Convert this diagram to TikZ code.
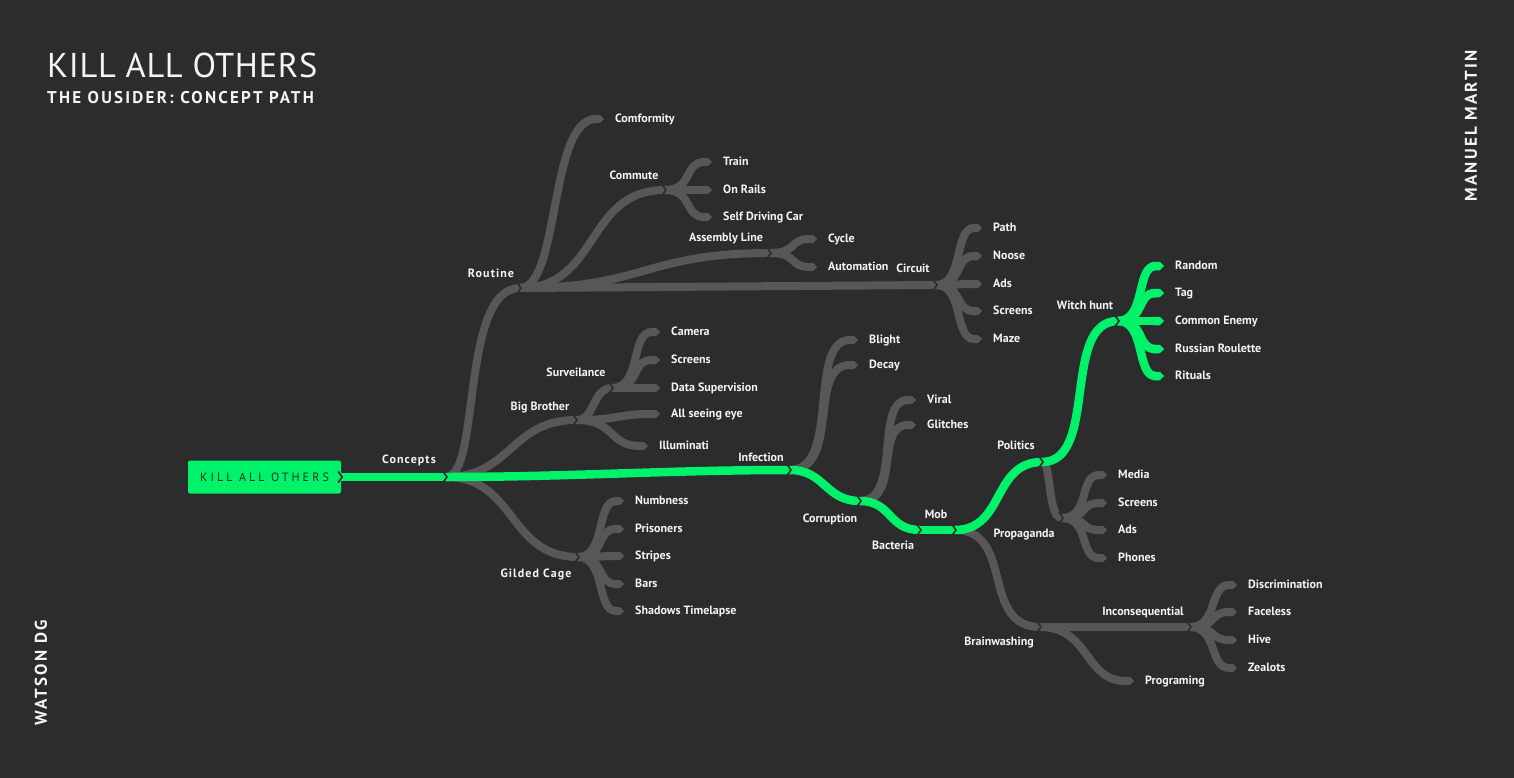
\documentclass[tikz,border=0pt]{standalone}
\usepackage{fontspec}
\setmainfont{PT Sans}
\newfontfamily\titlefont[LetterSpace=2]{PT Sans}
\newfontfamily\subfont[LetterSpace=13]{PT Sans}
\newfontfamily\rootfont[LetterSpace=26]{PT Sans}
\newfontfamily\spfont[LetterSpace=9]{PT Sans}
\usetikzlibrary{arrows.meta,positioning}
\definecolor{bgc}{HTML}{2C2C2C}
\definecolor{grn}{HTML}{00F26B}
\definecolor{gry}{HTML}{595656}
\definecolor{txt}{HTML}{F4F4F4}
\definecolor{dark}{HTML}{1A3325}
\tikzset{
 gbr/.style={draw=gry, line width=8pt},
 gleaf/.style={gbr, -{Triangle Cap}},
 grnbr/.style={draw=grn, line width=8.5pt},
 grnleaf/.style={grnbr, -{Triangle Cap}},
 notch/.style={draw=bgc, line width=1.6pt},
 lab/.style={font=\bfseries\fontsize{12}{13}\selectfont, text=txt, inner sep=0pt, text height=9pt, text depth=2.5pt},
 leaf/.style={lab, anchor=west},
 side/.style={font=\subfont\bfseries\fontsize{17}{19}\selectfont, text=txt, inner sep=0pt, rotate=90},
}
\newcommand\notchat[1]{\draw[notch] (#1) ++(-3,5.5) -- ++(4,-5.5) -- ++(-4,-5.5);}
\begin{document}
\begin{tikzpicture}[x=1pt,y=1pt]
\fill[bgc] (0,0) rectangle (1514,-778);
\useasboundingbox (0,0) rectangle (1514,-778);

% titles
\node[anchor=base west, inner sep=0pt, text=txt, font=\titlefont\fontsize{34.4}{40}\selectfont] (title) at (47,-78) {KILL ALL OTHERS};
\node[anchor=base west, inner sep=0pt, text=txt, font=\subfont\bfseries\fontsize{17}{19}\selectfont] (sub) at (47,-104) {THE OUSIDER: CONCEPT PATH};
\node[side] (author) at (1471,-126) {MANUEL MARTIN};
\node[side] (studio) at (41,-673) {WATSON DG};

% root
\node[fill=grn, rounded corners=2pt, minimum width=153pt, minimum height=33pt, inner sep=0pt,
      text=dark, font=\rootfont\fontsize{12}{14}\selectfont] (root) at (264.5,-477) {KILL ALL OTHERS};

% junctions
\coordinate (jc) at (446,-477);
\coordinate (jinf) at (790,-470);
\coordinate (jcor) at (860,-501);
\coordinate (jbac) at (920,-530);
\coordinate (jmob) at (955,-530);
\coordinate (jpol) at (1042,-462);
\coordinate (jwit) at (1118,-321);
\coordinate (jrou) at (520,-288);
\coordinate (jbig) at (576,-420);
\coordinate (jgil) at (578,-557);
\coordinate (jcom) at (665,-190);
\coordinate (jass) at (770,-253);
\coordinate (jcir) at (936,-285);
\coordinate (jsur) at (612,-388);
\coordinate (jpro) at (1062,-518);
\coordinate (jbra) at (1040,-627);
\coordinate (jinc) at (1190,-627);

% leaf ends
\coordinate (eComf) at (604,-119);
\coordinate (eTrain) at (712,-162);
\coordinate (eRails) at (712,-190);
\coordinate (eSelf) at (712,-217);
\coordinate (eCycle) at (817,-239);
\coordinate (eAuto) at (817,-267);
\coordinate (ePath) at (982,-228);
\coordinate (eNoose) at (982,-256);
\coordinate (eAdsA) at (982,-284);
\coordinate (eScrA) at (982,-311);
\coordinate (eMaze) at (982,-339);
\coordinate (eCam) at (660,-332);
\coordinate (eScrB) at (660,-360);
\coordinate (eData) at (660,-388);
\coordinate (eEye) at (660,-414);
\coordinate (eIll) at (648,-446);
\coordinate (eNumb) at (624,-501);
\coordinate (ePris) at (624,-529);
\coordinate (eStr) at (624,-556);
\coordinate (eBars) at (624,-584);
\coordinate (eShad) at (624,-611);
\coordinate (eBli) at (858,-340);
\coordinate (eDec) at (858,-365);
\coordinate (eVir) at (916,-400);
\coordinate (eGli) at (916,-425);
\coordinate (eRan) at (1164,-266);
\coordinate (eTag) at (1164,-293);
\coordinate (eCom) at (1164,-321);
\coordinate (eRus) at (1164,-349);
\coordinate (eRit) at (1164,-376);
\coordinate (eMed) at (1107,-475);
\coordinate (eScrC) at (1107,-503);
\coordinate (eAdsC) at (1107,-530);
\coordinate (ePho) at (1107,-558);
\coordinate (eDis) at (1237,-585);
\coordinate (eFac) at (1237,-612);
\coordinate (eHive) at (1237,-640);
\coordinate (eZeal) at (1237,-668);
\coordinate (eProg) at (1134,-681);

% grey branches
\draw[gbr] (jc) .. controls +(35,0) and +(-60,0) .. (jrou);
\draw[gbr] (jc) .. controls +(65,0) and +(-65,0) .. (jbig);
\draw[gbr] (jc) .. controls +(70,0) and +(-70,0) .. (jgil);

\draw[gleaf] (jrou) .. controls +(40,0) and +(-55,0) .. (eComf);
\draw[gbr] (jrou) .. controls +(80,0) and +(-80,0) .. (jcom);
\draw[gbr] (jrou) .. controls +(125,0) and +(-125,0) .. (jass);
\draw[gbr] (jrou) -- (jcir);

\foreach \e in {eTrain,eRails,eSelf}
  \draw[gleaf] (jcom) .. controls +(28,0) and +(-28,0) .. (\e);
\foreach \e in {eCycle,eAuto}
  \draw[gleaf] (jass) .. controls +(28,0) and +(-28,0) .. (\e);
\foreach \e in {ePath,eNoose,eAdsA,eScrA,eMaze}
  \draw[gleaf] (jcir) .. controls +(28,0) and +(-28,0) .. (\e);

\draw[gbr] (jbig) .. controls +(20,0) and +(-20,0) .. (jsur);
\draw[gleaf] (jbig) .. controls +(45,0) and +(-45,0) .. (eEye);
\draw[gleaf] (jbig) .. controls +(40,0) and +(-40,0) .. (eIll);
\foreach \e in {eCam,eScrB,eData}
  \draw[gleaf] (jsur) .. controls +(30,0) and +(-30,0) .. (\e);

\foreach \e in {eNumb,ePris,eStr,eBars,eShad}
  \draw[gleaf] (jgil) .. controls +(28,0) and +(-28,0) .. (\e);

\foreach \e in {eBli,eDec}
  \draw[gleaf] (jinf) .. controls +(51,0) and +(-51,0) .. (\e);
\foreach \e in {eVir,eGli}
  \draw[gleaf] (jcor) .. controls +(42,0) and +(-42,0) .. (\e);

\draw[gbr] (jmob) .. controls +(60,0) and +(-60,0) .. (jbra);
\draw[gbr] (jbra) -- (jinc);
\draw[gleaf] (jbra) .. controls +(50,0) and +(-50,0) .. (eProg);
\foreach \e in {eDis,eFac,eHive,eZeal}
  \draw[gleaf] (jinc) .. controls +(28,0) and +(-28,0) .. (\e);

\draw[gbr] (jpol) .. controls +(10,0) and +(-15,0) .. (jpro);
\foreach \e in {eMed,eScrC,eAdsC,ePho}
  \draw[gleaf] (jpro) .. controls +(28,0) and +(-28,0) .. (\e);

% green path
\draw[grnbr] (root.east) -- (jc);
\draw[grnbr] (jc) .. controls +(120,0) and +(-120,0) .. (jinf);
\draw[grnbr] (jinf) .. controls +(35,0) and +(-35,0) .. (jcor);
\draw[grnbr] (jcor) .. controls +(32,0) and +(-32,0) .. (jbac);
\draw[grnbr] (jbac) -- (jmob);
\draw[grnbr] (jmob) .. controls +(50,0) and +(-50,0) .. (jpol);
\draw[grnbr] (jpol) .. controls +(57,0) and +(-57,0) .. (jwit);
\foreach \e in {eRan,eTag,eCom,eRus,eRit}
  \draw[grnleaf] (jwit) .. controls +(28,0) and +(-28,0) .. (\e);

% notches
\coordinate (jroot) at (root.east);
\foreach \j in {jroot,jc,jinf,jcor,jbac,jmob,jpol,jwit,jrou,jbig,jgil,jcom,jass,jcir,jsur,jpro,jbra,jinc}
  \notchat{\j};

% branch labels
\node[lab] (lConc) at (409,-460) {\spfont Concepts};
\node[lab] (lRout) at (491,-274) {\spfont Routine};
\node[lab] (lBig) at (540,-407) {Big Brother};
\node[lab] (lGil) at (536,-574) {\spfont Gilded Cage};
\node[lab] (lComm) at (634,-176) {Commute};
\node[lab] (lAss) at (726,-238) {Assembly Line};
\node[lab] (lCir) at (913,-269) {Circuit};
\node[lab] (lSur) at (576,-373) {Surveilance};
\node[lab] (lInf) at (761,-458) {Infection};
\node[lab] (lCor) at (830,-519) {Corruption};
\node[lab] (lBac) at (893,-546) {Bacteria};
\node[lab] (lMob) at (936,-515) {Mob};
\node[lab] (lPol) at (1016,-446) {Politics};
\node[lab] (lPro) at (1024,-534) {Propaganda};
\node[lab] (lWit) at (1085,-306) {Witch hunt};
\node[lab] (lBra) at (999,-642) {Brainwashing};
\node[lab] (lInc) at (1143,-612) {Inconsequential};

% leaf labels
\node[leaf, right=11pt of eComf] (tComf) {Comformity};
\node[leaf, right=11pt of eTrain] (tTrain) {Train};
\node[leaf, right=11pt of eRails] (tRails) {On Rails};
\node[leaf, right=11pt of eSelf] (tSelf) {Self Driving Car};
\node[leaf, right=11pt of eCycle] (tCycle) {Cycle};
\node[leaf, right=11pt of eAuto] (tAuto) {Automation};
\node[leaf, right=11pt of ePath] (tPath) {Path};
\node[leaf, right=11pt of eNoose] (tNoose) {Noose};
\node[leaf, right=11pt of eAdsA] (tAdsA) {Ads};
\node[leaf, right=11pt of eScrA] (tScrA) {Screens};
\node[leaf, right=11pt of eMaze] (tMaze) {Maze};
\node[leaf, right=11pt of eCam] (tCam) {Camera};
\node[leaf, right=11pt of eScrB] (tScrB) {Screens};
\node[leaf, right=11pt of eData] (tData) {Data Supervision};
\node[leaf, right=11pt of eEye] (tEye) {All seeing eye};
\node[leaf, right=11pt of eIll] (tIll) {Illuminati};
\node[leaf, right=11pt of eNumb] (tNumb) {Numbness};
\node[leaf, right=11pt of ePris] (tPris) {Prisoners};
\node[leaf, right=11pt of eStr] (tStr) {Stripes};
\node[leaf, right=11pt of eBars] (tBars) {Bars};
\node[leaf, right=11pt of eShad] (tShad) {Shadows Timelapse};
\node[leaf, right=11pt of eBli] (tBli) {Blight};
\node[leaf, right=11pt of eDec] (tDec) {Decay};
\node[leaf, right=11pt of eVir] (tVir) {Viral};
\node[leaf, right=11pt of eGli] (tGli) {Glitches};
\node[leaf, right=11pt of eRan] (tRan) {Random};
\node[leaf, right=11pt of eTag] (tTag) {Tag};
\node[leaf, right=11pt of eCom] (tCom) {Common Enemy};
\node[leaf, right=11pt of eRus] (tRus) {Russian Roulette};
\node[leaf, right=11pt of eRit] (tRit) {Rituals};
\node[leaf, right=11pt of eMed] (tMed) {Media};
\node[leaf, right=11pt of eScrC] (tScrC) {Screens};
\node[leaf, right=11pt of eAdsC] (tAdsC) {Ads};
\node[leaf, right=11pt of ePho] (tPho) {Phones};
\node[leaf, right=11pt of eDis] (tDis) {Discrimination};
\node[leaf, right=11pt of eFac] (tFac) {Faceless};
\node[leaf, right=11pt of eHive] (tHive) {Hive};
\node[leaf, right=11pt of eZeal] (tZeal) {Zealots};
\node[leaf, right=11pt of eProg] (tProg) {Programing};
\end{tikzpicture}
\end{document}
